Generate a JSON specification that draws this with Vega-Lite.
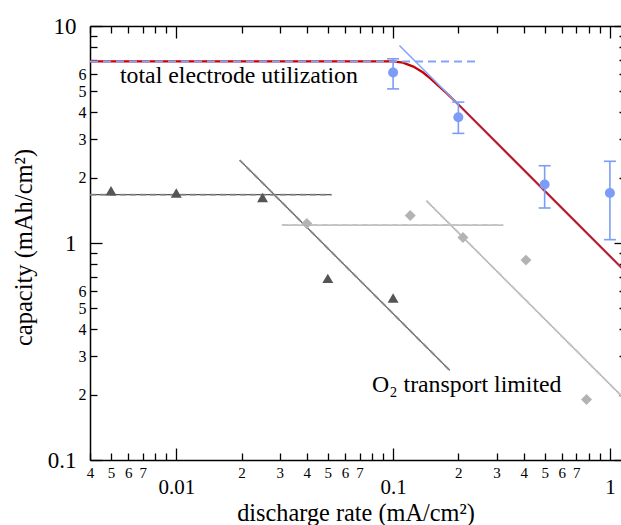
{
  "$schema": "https://vega.github.io/schema/vega-lite/v6.json",
  "autosize": {"type": "none"},
  "width": 531,
  "height": 434,
  "padding": {"left": 90, "top": 26, "right": 0, "bottom": 65},
  "data": {"values": [
    {"kind": "red", "x": 0.004, "y": 6.87},
    {"kind": "red", "x": 0.1, "y": 6.87},
    {"kind": "red", "x": 0.111, "y": 6.78},
    {"kind": "red", "x": 0.124, "y": 6.5},
    {"kind": "red", "x": 0.137, "y": 6.12},
    {"kind": "red", "x": 0.148, "y": 5.75},
    {"kind": "red", "x": 0.162, "y": 5.3},
    {"kind": "red", "x": 0.176, "y": 4.92},
    {"kind": "red", "x": 0.2, "y": 4.35},
    {"kind": "red", "x": 1.2, "y": 0.725},
    {"kind": "blueH", "x": 0.004, "y": 6.87},
    {"kind": "blueH", "x": 0.24, "y": 6.87},
    {"kind": "blueS", "x": 0.107, "y": 8.13},
    {"kind": "blueS", "x": 1.2, "y": 0.725},
    {"kind": "darkH", "x": 0.004, "y": 1.67},
    {"kind": "darkH", "x": 0.052, "y": 1.67},
    {"kind": "darkS", "x": 0.0196, "y": 2.41},
    {"kind": "darkS", "x": 0.1825, "y": 0.259},
    {"kind": "grayH", "x": 0.0307, "y": 1.21},
    {"kind": "grayH", "x": 0.322, "y": 1.21},
    {"kind": "grayS", "x": 0.1425, "y": 1.565},
    {"kind": "grayS", "x": 1.2, "y": 0.186},
    {"kind": "dark", "x": 0.005, "y": 1.74},
    {"kind": "dark", "x": 0.01, "y": 1.7},
    {"kind": "dark", "x": 0.025, "y": 1.62},
    {"kind": "dark", "x": 0.05, "y": 0.687},
    {"kind": "dark", "x": 0.1, "y": 0.558},
    {"kind": "gray", "x": 0.04, "y": 1.23},
    {"kind": "gray", "x": 0.12, "y": 1.34},
    {"kind": "gray", "x": 0.21, "y": 1.06},
    {"kind": "gray", "x": 0.41, "y": 0.834},
    {"kind": "gray", "x": 0.78, "y": 0.19},
    {"kind": "blue", "x": 0.1, "y": 6.1, "lo": 5.13, "hi": 7.06},
    {"kind": "blue", "x": 0.2, "y": 3.8, "lo": 3.2, "hi": 4.46},
    {"kind": "blue", "x": 0.5, "y": 1.86, "lo": 1.45, "hi": 2.27},
    {"kind": "blue", "x": 1.0, "y": 1.7, "lo": 1.036, "hi": 2.38},
    {"kind": "note", "t": "total electrode utilization", "x": 0.0055, "y": 5.9},
    {"kind": "note", "t": "O₂ transport limited", "x": 0.08, "y": 0.2225}
  ]},
  "layer": [
    {
      "transform": [{"filter": "datum.kind == 'red'"}],
      "mark": {"type": "line", "color": "#c80000", "strokeWidth": 2.2},
      "encoding": {
        "x": {"field": "x", "type": "quantitative", "scale": {"type": "log", "domain": [0.004, 1.125], "nice": false},
          "axis": {"orient": "bottom", "title": null, "gridOpacity": 0, "domain": false, "offset": -7, "tickSize": 7, "tickColor": "black", "tickWidth": 1.3,
            "labelFont": "Liberation Serif", "labelColor": "black", "labelPadding": 5, "labelFontSize": 15, "labelOverlap": false, "labelFlush": false,
            "values": [0.004,0.005,0.006,0.007,0.008,0.009,0.02,0.03,0.04,0.05,0.06,0.07,0.08,0.09,0.2,0.3,0.4,0.5,0.6,0.7,0.8,0.9],
            "labelExpr": "round(datum.value/pow(10, floor(log(datum.value)/LN10 + 0.001))) <= 7 ? toString(round(datum.value/pow(10, floor(log(datum.value)/LN10 + 0.001)))) : ''"
          }},
        "y": {"field": "y", "type": "quantitative", "scale": {"type": "log", "domain": [0.1, 10], "nice": false},
          "axis": {"orient": "left", "title": null, "gridOpacity": 0, "domain": false, "offset": -7, "tickSize": 7, "tickColor": "black", "tickWidth": 1.3,
            "labelFont": "Liberation Serif", "labelColor": "black", "labelPadding": 4, "labelFontSize": 16, "labelOverlap": false, "labelFlush": false,
            "values": [0.2,0.3,0.4,0.5,0.6,0.7,0.8,0.9,2,3,4,5,6,7,8,9],
            "labelExpr": "round(datum.value/pow(10, floor(log(datum.value)/LN10 + 0.001))) <= 6 ? toString(round(datum.value/pow(10, floor(log(datum.value)/LN10 + 0.001)))) : ''"
          }}
      }
    },
    {
      "transform": [{"filter": "datum.kind == 'blueH'"}],
      "mark": {"type": "line", "color": "#86a4f7", "strokeWidth": 2, "strokeDash": [8, 5]},
      "encoding": {
        "x": {"field": "x", "type": "quantitative", "scale": {"type": "log", "domain": [0.004, 1.125], "nice": false},
          "axis": {"orient": "top", "title": null, "gridOpacity": 0, "labelOpacity": 0, "domain": false, "offset": -7, "tickSize": 7, "tickColor": "black", "tickWidth": 1.3,
            "values": [0.004,0.005,0.006,0.007,0.008,0.009,0.02,0.03,0.04,0.05,0.06,0.07,0.08,0.09,0.2,0.3,0.4,0.5,0.6,0.7,0.8,0.9]
          }},
        "y": {"field": "y", "type": "quantitative", "scale": {"type": "log", "domain": [0.1, 10], "nice": false},
          "axis": {"orient": "right", "title": null, "gridOpacity": 0, "labelOpacity": 0, "domain": false, "offset": -2, "tickSize": 7, "tickColor": "black", "tickWidth": 1.3,
            "values": [0.2,0.3,0.4,0.5,0.6,0.7,0.8,0.9,2,3,4,5,6,7,8,9]
          }}
      }
    },
    {
      "transform": [{"filter": "datum.kind == 'blueS'"}],
      "mark": {"type": "line", "color": "#86a4f7", "strokeWidth": 1.6},
      "encoding": {
        "x": {"field": "x", "type": "quantitative", "scale": {"type": "log", "domain": [0.004, 1.125], "nice": false},
          "axis": {"orient": "bottom", "gridOpacity": 0, "title": "discharge rate (mA/cm²)", "titleFont": "Liberation Serif", "titleFontWeight": "normal", "titleColor": "black", "titleFontSize": 24.3, "titleY": 72, "titleBaseline": "alphabetic",
            "domain": false, "offset": -12, "tickSize": 12, "tickColor": "black", "tickWidth": 1.3,
            "labelFont": "Liberation Serif", "labelColor": "black", "labelPadding": 16, "labelFontSize": 21, "labelOverlap": false, "labelFlush": false, "values": [0.01, 0.1, 1],
            "labelExpr": "toString(round(datum.value*1000)/1000)"
          }},
        "y": {"field": "y", "type": "quantitative", "scale": {"type": "log", "domain": [0.1, 10], "nice": false},
          "axis": {"orient": "left", "gridOpacity": 0, "title": "capacity (mAh/cm²)", "titleFont": "Liberation Serif", "titleFontWeight": "normal", "titleColor": "black", "titleFontSize": 24.5, "titleX": -78, "titleY": 221, "titleBaseline": "middle",
            "domain": false, "offset": -12, "tickSize": 12, "tickColor": "black", "tickWidth": 1.3,
            "labelFont": "Liberation Serif", "labelColor": "black", "labelPadding": 14, "labelFontSize": 23, "labelOverlap": false, "labelFlush": false, "values": [0.1, 1, 10],
            "labelExpr": "toString(round(datum.value*1000)/1000)"
          }}
      }
    },
    {
      "transform": [{"filter": "datum.kind == 'red' && datum.x > 0.19"}],
      "mark": {"type": "line", "color": "#c80000", "strokeWidth": 1.2},
      "encoding": {
        "x": {"field": "x", "type": "quantitative", "scale": {"type": "log", "domain": [0.004, 1.125], "nice": false},
          "axis": {"orient": "top", "title": null, "gridOpacity": 0, "labelOpacity": 0, "domain": false, "offset": -12, "tickSize": 12, "tickColor": "black", "tickWidth": 1.3, "values": [0.01, 0.1, 1]}},
        "y": {"field": "y", "type": "quantitative", "scale": {"type": "log", "domain": [0.1, 10], "nice": false},
          "axis": {"orient": "right", "title": null, "gridOpacity": 0, "labelOpacity": 0, "domain": false, "offset": -7, "tickSize": 12, "tickColor": "black", "tickWidth": 1.3, "values": [0.1, 1, 10]}}
      }
    },
    {
      "transform": [{"filter": "datum.kind == 'darkH' || datum.kind == 'darkS'"}],
      "mark": {"type": "line", "color": "#555555", "strokeWidth": 1.2},
      "encoding": {
        "x": {"field": "x", "type": "quantitative", "scale": {"type": "log", "domain": [0.004, 1.125], "nice": false},
          "axis": {"orient": "bottom", "title": null, "gridOpacity": 0, "labelOpacity": 0, "tickOpacity": 0, "domain": true, "domainColor": "black", "domainWidth": 1.5, "values": [0.01]}},
        "y": {"field": "y", "type": "quantitative", "scale": {"type": "log", "domain": [0.1, 10], "nice": false},
          "axis": {"orient": "left", "title": null, "gridOpacity": 0, "labelOpacity": 0, "tickOpacity": 0, "domain": true, "domainColor": "black", "domainWidth": 1.5, "values": [1]}},
        "detail": {"field": "kind"}
      }
    },
    {
      "transform": [{"filter": "datum.kind == 'darkH' || datum.kind == 'darkS'"}],
      "mark": {"type": "line", "color": "#8a8a8a", "strokeWidth": 2, "strokeDash": [6, 4], "opacity": 0.8},
      "encoding": {
        "x": {"field": "x", "type": "quantitative", "scale": {"type": "log", "domain": [0.004, 1.125], "nice": false},
          "axis": {"orient": "top", "title": null, "gridOpacity": 0, "labelOpacity": 0, "tickOpacity": 0, "domain": true, "domainColor": "black", "domainWidth": 1.5, "values": [0.01]}},
        "y": {"field": "y", "type": "quantitative", "scale": {"type": "log", "domain": [0.1, 10], "nice": false}, "axis": null},
        "detail": {"field": "kind"}
      }
    },
    {
      "transform": [{"filter": "datum.kind == 'grayH' || datum.kind == 'grayS'"}],
      "mark": {"type": "line", "color": "#a8a8a8", "strokeWidth": 1.2},
      "encoding": {
        "x": {"field": "x", "type": "quantitative", "scale": {"type": "log", "domain": [0.004, 1.125], "nice": false}, "axis": null},
        "y": {"field": "y", "type": "quantitative", "scale": {"type": "log", "domain": [0.1, 10], "nice": false}, "axis": null},
        "detail": {"field": "kind"}
      }
    },
    {
      "transform": [{"filter": "datum.kind == 'grayH' || datum.kind == 'grayS'"}],
      "mark": {"type": "line", "color": "#c4c4c4", "strokeWidth": 2, "strokeDash": [6, 4]},
      "encoding": {
        "x": {"field": "x", "type": "quantitative", "scale": {"type": "log", "domain": [0.004, 1.125], "nice": false}, "axis": null},
        "y": {"field": "y", "type": "quantitative", "scale": {"type": "log", "domain": [0.1, 10], "nice": false}, "axis": null},
        "detail": {"field": "kind"}
      }
    },
    {
      "transform": [{"filter": "datum.kind == 'dark'"}],
      "mark": {"type": "point", "shape": "triangle-up", "filled": true, "color": "#555555", "size": 120, "opacity": 1},
      "encoding": {
        "x": {"field": "x", "type": "quantitative", "scale": {"type": "log", "domain": [0.004, 1.125], "nice": false}, "axis": null},
        "y": {"field": "y", "type": "quantitative", "scale": {"type": "log", "domain": [0.1, 10], "nice": false}, "axis": null}
      }
    },
    {
      "transform": [{"filter": "datum.kind == 'gray'"}],
      "mark": {"type": "point", "shape": "diamond", "filled": true, "color": "#b3b3b3", "size": 120, "opacity": 1},
      "encoding": {
        "x": {"field": "x", "type": "quantitative", "scale": {"type": "log", "domain": [0.004, 1.125], "nice": false}, "axis": null},
        "y": {"field": "y", "type": "quantitative", "scale": {"type": "log", "domain": [0.1, 10], "nice": false}, "axis": null}
      }
    },
    {
      "transform": [{"filter": "datum.kind == 'blue'"}],
      "mark": {"type": "rule", "color": "#7d9cf5", "strokeWidth": 1.6},
      "encoding": {
        "x": {"field": "x", "type": "quantitative", "scale": {"type": "log", "domain": [0.004, 1.125], "nice": false}, "axis": null},
        "y": {"field": "lo", "type": "quantitative", "scale": {"type": "log", "domain": [0.1, 10], "nice": false}, "axis": null},
        "y2": {"field": "hi"}
      }
    },
    {
      "transform": [{"filter": "datum.kind == 'blue'"}],
      "mark": {"type": "tick", "orient": "horizontal", "color": "#7d9cf5", "size": 12, "thickness": 1.6, "opacity": 1},
      "encoding": {
        "x": {"field": "x", "type": "quantitative", "scale": {"type": "log", "domain": [0.004, 1.125], "nice": false}, "axis": null},
        "y": {"field": "lo", "type": "quantitative", "scale": {"type": "log", "domain": [0.1, 10], "nice": false}, "axis": null}
      }
    },
    {
      "transform": [{"filter": "datum.kind == 'blue'"}],
      "mark": {"type": "tick", "orient": "horizontal", "color": "#7d9cf5", "size": 12, "thickness": 1.6, "opacity": 1},
      "encoding": {
        "x": {"field": "x", "type": "quantitative", "scale": {"type": "log", "domain": [0.004, 1.125], "nice": false}, "axis": null},
        "y": {"field": "hi", "type": "quantitative", "scale": {"type": "log", "domain": [0.1, 10], "nice": false}, "axis": null}
      }
    },
    {
      "transform": [{"filter": "datum.kind == 'blue'"}],
      "mark": {"type": "point", "shape": "circle", "filled": true, "color": "#7d9cf5", "size": 100, "opacity": 1},
      "encoding": {
        "x": {"field": "x", "type": "quantitative", "scale": {"type": "log", "domain": [0.004, 1.125], "nice": false}, "axis": null},
        "y": {"field": "y", "type": "quantitative", "scale": {"type": "log", "domain": [0.1, 10], "nice": false}, "axis": null}
      }
    },
    {
      "transform": [{"filter": "datum.kind == 'note'"}],
      "mark": {"type": "text", "align": "left", "baseline": "middle", "font": "Liberation Serif", "fontSize": 23.8, "color": "black"},
      "encoding": {
        "x": {"field": "x", "type": "quantitative", "scale": {"type": "log", "domain": [0.004, 1.125], "nice": false}, "axis": null},
        "y": {"field": "y", "type": "quantitative", "scale": {"type": "log", "domain": [0.1, 10], "nice": false}, "axis": null},
        "text": {"field": "t"}
      }
    }
  ],
  "resolve": {"axis": {"x": "independent", "y": "independent"}}
}
